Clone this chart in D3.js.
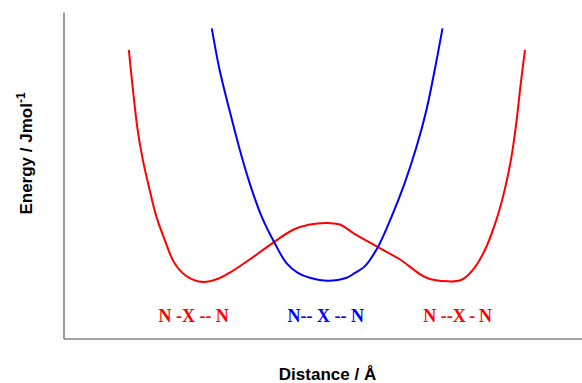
<!DOCTYPE html>
<html>
<head>
<meta charset="utf-8">
<script src="https://cdn.jsdelivr.net/npm/d3@7"></script>
<style>
  html, body { margin: 0; padding: 0; background: #ffffff; }
  svg { display: block; }
</style>
</head>
<body>
<svg id="chart" width="582" height="383"></svg>
<script>
// Double-well (red) and single-well (blue) potential energy curves, arbitrary units
const redDistance = [12.6, 13.4, 14.3, 15.3, 16.6, 17.9, 19.5, 21.4, 23.7, 26.9, 29.8, 32.0, 35.9, 40.4, 44.3, 47.5, 50.7, 53.3, 55.9, 60.4, 64.9, 70.0, 74.2, 76.8, 79.0, 81.3, 83.5, 85.1, 86.4, 87.4, 88.2, 89.0];
const redEnergy   = [88.4, 76.1, 63.9, 54.7, 45.6, 37.4, 30.3, 23.1, 19.1, 17.3, 18.3, 20.1, 24.2, 29.3, 33.3, 34.9, 35.4, 34.9, 32.3, 28.2, 24.2, 18.6, 17.5, 18.0, 21.1, 27.2, 36.4, 45.6, 55.7, 67.0, 78.2, 88.4];
const blueDistance = [28.6, 30.1, 32.0, 34.0, 35.9, 38.2, 40.7, 43.0, 45.2, 47.5, 51.0, 54.6, 56.2, 58.1, 60.7, 63.3, 65.8, 68.1, 70.0, 71.6, 73.1];
const blueEnergy   = [95.0, 82.3, 70.0, 57.8, 47.6, 37.4, 29.3, 23.1, 20.1, 18.6, 17.7, 18.6, 20.1, 22.1, 28.2, 37.4, 47.6, 58.8, 70.0, 82.3, 95.0];

const stateLabels   = ["N -X -- N", "N-- X -- N", "N --X\u2009-\u2009N"];
const stateDistance = [25.1, 50.6, 76.0];
const stateEnergy   = [5.2, 5.2, 5.2];
const stateColors   = ["#ff0000", "#0000ff", "#ff0000"];

const xTitle = "Distance / Å";
const yTitle = "Energy / Jmol";
const yTitleSup = "-1";

const svg = d3.select("#chart");
svg.append("rect").attr("width", 582).attr("height", 383).attr("fill", "#ffffff");

const x = d3.scaleLinear().domain([0, 100]).range([63.5, 582]);
const y = d3.scaleLinear().domain([0, 100]).range([338.5, 12]);

// axes (no ticks)
const axisColor = "#858585";
const gx = svg.append("g").attr("transform", `translate(0,${y(0)})`)
  .call(d3.axisBottom(x).tickValues([]).tickSizeOuter(0));
const gy = svg.append("g").attr("transform", `translate(${x(0)},0)`)
  .call(d3.axisLeft(y).tickValues([]).tickSizeOuter(0));
[gx, gy].forEach(g => g.select(".domain").attr("stroke", axisColor).attr("stroke-width", 1.6));

const line = d3.line().x(d => x(d[0])).y(d => y(d[1])).curve(d3.curveCatmullRom.alpha(0.5));

const redPts = redDistance.map((d, i) => [d, redEnergy[i]]);
const bluePts = blueDistance.map((d, i) => [d, blueEnergy[i]]);

svg.append("path").datum(redPts).attr("d", line)
  .attr("fill", "none").attr("stroke", "#ff0000").attr("stroke-width", 2);
svg.append("path").datum(bluePts).attr("d", line)
  .attr("fill", "none").attr("stroke", "#0000ff").attr("stroke-width", 2);

// state labels
svg.selectAll("text.state").data(stateLabels).enter().append("text")
  .attr("class", "state")
  .attr("x", (d, i) => x(stateDistance[i]))
  .attr("y", (d, i) => y(stateEnergy[i]))
  .attr("text-anchor", "middle")
  .attr("fill", (d, i) => stateColors[i])
  .style("font-family", "'Liberation Serif', 'Times New Roman', serif")
  .style("font-weight", "bold")
  .style("font-size", "18px")
  .style("white-space", "pre")
  .text(d => d);

// axis titles
svg.append("text")
  .attr("x", 327.5).attr("y", 380)
  .attr("text-anchor", "middle")
  .style("font-family", "'Liberation Sans', Arial, sans-serif")
  .style("font-weight", "bold").style("font-size", "17px")
  .attr("fill", "#000")
  .text(xTitle);

const yt = svg.append("text")
  .attr("transform", "translate(31.5,153.5) rotate(-90)")
  .attr("text-anchor", "middle")
  .style("font-family", "'Liberation Sans', Arial, sans-serif")
  .style("font-weight", "bold").style("font-size", "17px")
  .attr("fill", "#000");
yt.append("tspan").text(yTitle);
yt.append("tspan").attr("dy", -7).style("font-size", "12px").text(yTitleSup);
</script>
</body>
</html>
